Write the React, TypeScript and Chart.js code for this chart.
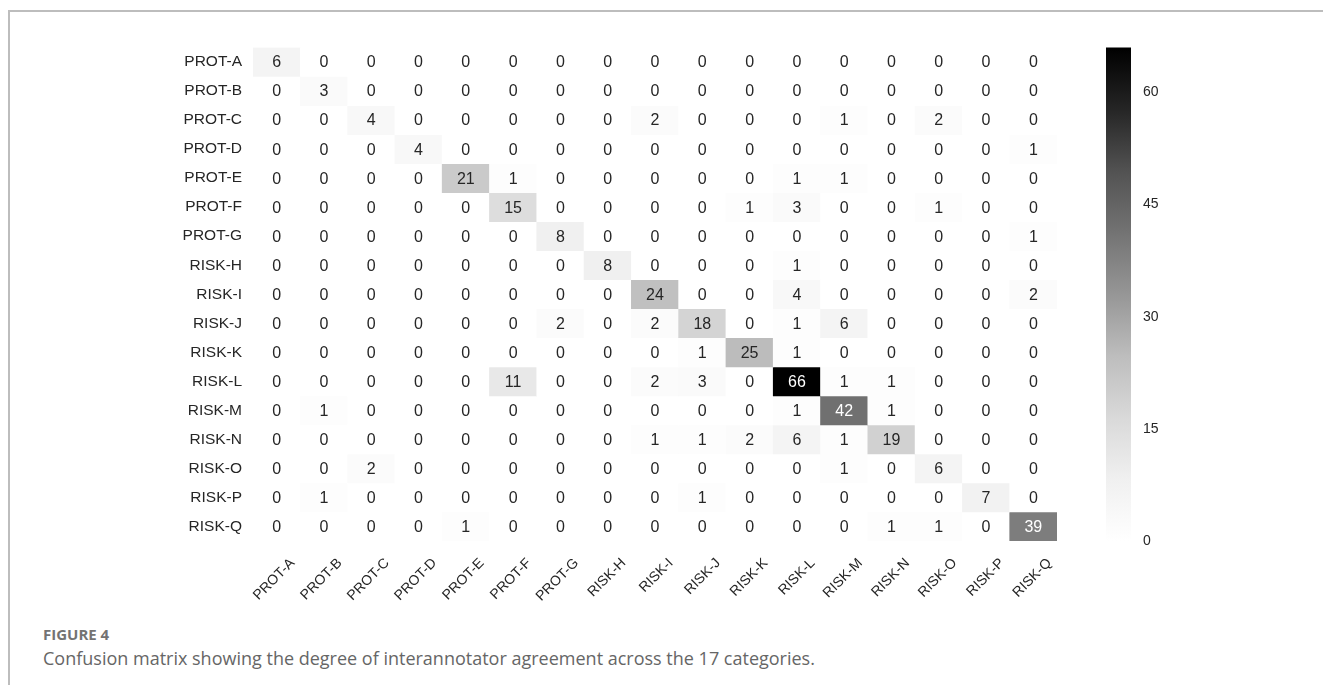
import React, { useEffect, useRef } from "react";
import { Chart, registerables } from "chart.js";

Chart.register(...registerables);

// ---------- data ----------
const categories = [
  "PROT-A", "PROT-B", "PROT-C", "PROT-D", "PROT-E", "PROT-F", "PROT-G",
  "RISK-H", "RISK-I", "RISK-J", "RISK-K", "RISK-L", "RISK-M", "RISK-N",
  "RISK-O", "RISK-P", "RISK-Q",
];

const counts: number[][] = [
  [6, 0, 0, 0, 0, 0, 0, 0, 0, 0, 0, 0, 0, 0, 0, 0, 0],
  [0, 3, 0, 0, 0, 0, 0, 0, 0, 0, 0, 0, 0, 0, 0, 0, 0],
  [0, 0, 4, 0, 0, 0, 0, 0, 2, 0, 0, 0, 1, 0, 2, 0, 0],
  [0, 0, 0, 4, 0, 0, 0, 0, 0, 0, 0, 0, 0, 0, 0, 0, 1],
  [0, 0, 0, 0, 21, 1, 0, 0, 0, 0, 0, 1, 1, 0, 0, 0, 0],
  [0, 0, 0, 0, 0, 15, 0, 0, 0, 0, 1, 3, 0, 0, 1, 0, 0],
  [0, 0, 0, 0, 0, 0, 8, 0, 0, 0, 0, 0, 0, 0, 0, 0, 1],
  [0, 0, 0, 0, 0, 0, 0, 8, 0, 0, 0, 1, 0, 0, 0, 0, 0],
  [0, 0, 0, 0, 0, 0, 0, 0, 24, 0, 0, 4, 0, 0, 0, 0, 2],
  [0, 0, 0, 0, 0, 0, 2, 0, 2, 18, 0, 1, 6, 0, 0, 0, 0],
  [0, 0, 0, 0, 0, 0, 0, 0, 0, 1, 25, 1, 0, 0, 0, 0, 0],
  [0, 0, 0, 0, 0, 11, 0, 0, 2, 3, 0, 66, 1, 1, 0, 0, 0],
  [0, 1, 0, 0, 0, 0, 0, 0, 0, 0, 0, 1, 42, 1, 0, 0, 0],
  [0, 0, 0, 0, 0, 0, 0, 0, 1, 1, 2, 6, 1, 19, 0, 0, 0],
  [0, 0, 2, 0, 0, 0, 0, 0, 0, 0, 0, 0, 1, 0, 6, 0, 0],
  [0, 1, 0, 0, 0, 0, 0, 0, 0, 1, 0, 0, 0, 0, 0, 7, 0],
  [0, 0, 0, 0, 1, 0, 0, 0, 0, 0, 0, 0, 0, 1, 1, 0, 39],
];

const colorbarTicks = [0, 15, 30, 45, 60];
const colorMin = 0;
const colorMax = 66;

const figureLabel = "FIGURE 4";
const captionText =
  "Confusion matrix showing the degree of interannotator agreement across the 17 categories.";

// ---------- colour map (matplotlib "Greys") ----------
const GREYS = [255, 240, 217, 189, 150, 115, 82, 37, 0];

function greyLevel(t: number): number {
  const c = Math.max(0, Math.min(1, t));
  const pos = c * (GREYS.length - 1);
  const i = Math.min(GREYS.length - 2, Math.floor(pos));
  const f = pos - i;
  return GREYS[i] + (GREYS[i + 1] - GREYS[i]) * f;
}
function cellColor(v: number): string {
  const g = Math.round(greyLevel((v - colorMin) / (colorMax - colorMin)));
  return `rgb(${g},${g},${g})`;
}
function textColor(v: number): string {
  const g = greyLevel((v - colorMin) / (colorMax - colorMin)) / 255;
  const lin = g <= 0.03928 ? g / 12.92 : Math.pow((g + 0.055) / 1.055, 2.4);
  return lin > 0.408 ? "#262626" : "#ffffff";
}

const FONT = "'Liberation Sans', Arial, Helvetica, sans-serif";
const W = 1315;
const H = 615;

export default function App() {
  const ref = useRef<HTMLCanvasElement | null>(null);

  useEffect(() => {
    if (!ref.current) return;

    const annotate = {
      id: "annotate",
      afterDatasetsDraw(chart: any) {
        const ctx = chart.ctx;
        ctx.save();
        ctx.font = `16px ${FONT}`;
        ctx.textAlign = "center";
        ctx.textBaseline = "middle";
        chart.data.datasets.forEach((ds: any, i: number) => {
          const meta = chart.getDatasetMeta(i);
          meta.data.forEach((bar: any, j: number) => {
            const v = counts[i][j];
            const p = bar.getCenterPoint();
            ctx.fillStyle = textColor(v);
            ctx.fillText(String(v), p.x, p.y + 1);
          });
        });
        ctx.restore();
      },
    };

    const colorbar = {
      id: "colorbar",
      afterDraw(chart: any) {
        const cb = chart.scales.cb;
        const ctx = chart.ctx;
        const top = cb.getPixelForValue(colorMax);
        const bottom = cb.getPixelForValue(colorMin);
        const x0 = cb.left + 49;
        const w = 25;
        const grad = ctx.createLinearGradient(0, bottom, 0, top);
        GREYS.forEach((g, k) => {
          grad.addColorStop(k / (GREYS.length - 1), `rgb(${g},${g},${g})`);
        });
        ctx.save();
        ctx.fillStyle = grad;
        ctx.fillRect(x0, top, w, bottom - top);
        ctx.restore();
      },
    };

    const chart = new Chart(ref.current, {
      type: "bar",
      data: {
        labels: categories,
        datasets: counts.map((row, i) => ({
          label: categories[i],
          data: row.map(() => [i - 0.5, i + 0.5]) as any,
          backgroundColor: row.map((v) => cellColor(v)),
          borderWidth: 0,
          barPercentage: 1,
          categoryPercentage: 1,
          grouped: false,
        })),
      },
      options: {
        responsive: false,
        animation: false,
        layout: { padding: { top: 39.5, left: 0, right: 0, bottom: 0 } },
        plugins: {
          legend: { display: false },
          tooltip: { enabled: false },
        },
        scales: {
          x: {
            type: "category",
            offset: true,
            grid: { display: false, drawTicks: true, tickLength: 8 },
            border: { display: false },
            ticks: {
              maxRotation: 45,
              minRotation: 45,
              autoSkip: false,
              labelOffset: 16,
              padding: 6,
              color: "#262626",
              font: { family: FONT, size: 14 },
            },
            afterFit(scale: any) {
              scale.height = 82;
            },
          },
          y: {
            type: "linear",
            min: -0.5,
            max: categories.length - 0.5,
            reverse: true,
            grid: { display: false, drawTicks: false },
            border: { display: false },
            afterBuildTicks(scale: any) {
              scale.ticks = categories.map((_, i) => ({ value: i }));
            },
            ticks: {
              autoSkip: false,
              padding: 11,
              color: "#262626",
              font: { family: FONT, size: 15.5 },
              callback: (v: any) => categories[v as number],
            },
            afterFit(scale: any) {
              scale.width = 245;
            },
          },
          cb: {
            type: "linear",
            position: "right",
            min: colorMin,
            max: colorMax,
            grid: { display: false, drawTicks: true, tickLength: 80 },
            border: { display: false },
            afterBuildTicks(scale: any) {
              scale.ticks = colorbarTicks.map((v) => ({ value: v }));
            },
            ticks: {
              padding: 6,
              color: "#262626",
              font: { family: FONT, size: 14 },
            },
            afterFit(scale: any) {
              scale.width = W - 1049;
            },
          },
        },
      } as any,
      plugins: [annotate, colorbar],
    });

    return () => chart.destroy();
  }, []);

  return (
    <div
      style={{
        position: "relative",
        width: W,
        height: 677,
        overflow: "hidden",
      }}
    >
      <div
        style={{
          position: "absolute",
          left: 0,
          top: 2,
          width: 1400,
          height: 800,
          borderLeft: "2px solid #bdbdbd",
          borderTop: "2px solid #bdbdbd",
          boxSizing: "border-box",
        }}
      />
      <canvas
        ref={ref}
        width={W}
        height={H}
        style={{ position: "absolute", left: 0, top: 0, display: "block" }}
      />
      <div
        style={{
          position: "absolute",
          left: 35,
          top: 617,
          fontFamily: "'Open Sans', sans-serif",
          fontWeight: 700,
          fontSize: 15,
          lineHeight: "18px",
          color: "#737373",
          whiteSpace: "nowrap",
        }}
      >
        {figureLabel}
      </div>
      <div
        style={{
          position: "absolute",
          left: 35,
          top: 639,
          fontFamily: "'Open Sans', sans-serif",
          fontSize: 18,
          lineHeight: "22px",
          color: "#666666",
          whiteSpace: "nowrap",
        }}
      >
        {captionText}
      </div>
    </div>
  );
}
